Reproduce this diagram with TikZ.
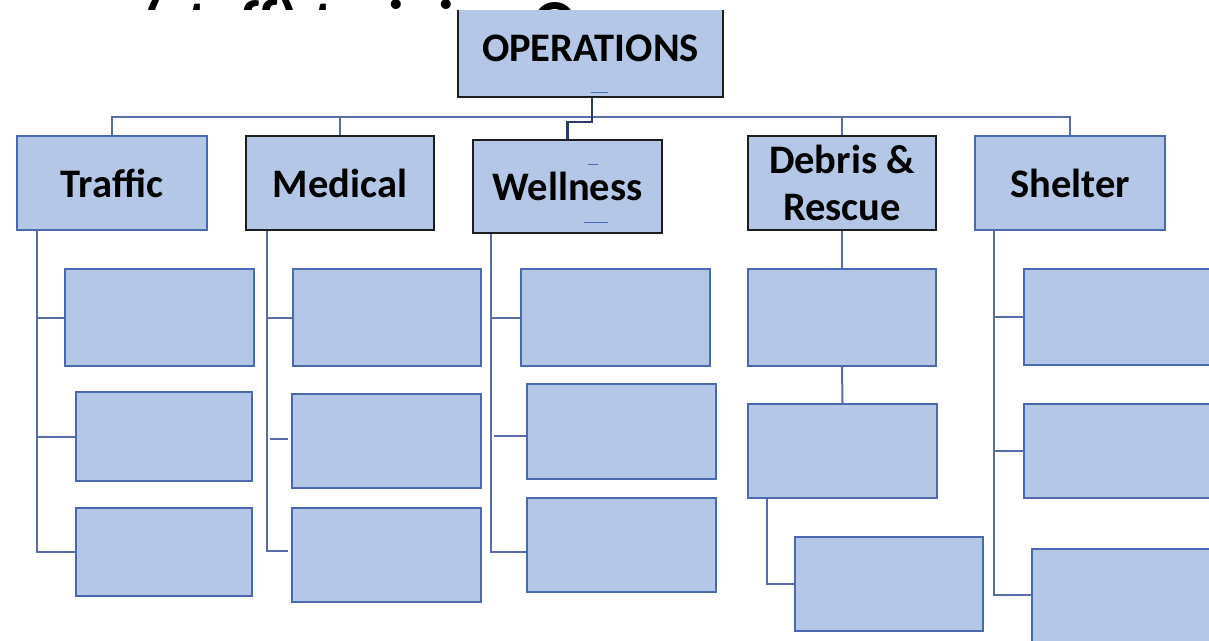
\documentclass[tikz,border=0pt]{standalone}
\usepackage{fontspec}
\setmainfont{Carlito}
\usetikzlibrary{calc}

\definecolor{boxfill}{HTML}{B4C7E7}
\definecolor{boxedge}{HTML}{4A69B0}
\definecolor{linkc}{HTML}{5A6DA6}
\definecolor{darkedge}{HTML}{1E1E1E}
\definecolor{darklinkc}{HTML}{2B3A66}

% \orgbox{style}{name}{left}{top}{right}{bottom}{text}
\newcommand\orgbox[7]{%
  \node[#1, minimum width={#5-#3}, minimum height={#6-#4}]
    (#2) at ({(#3+#5)/2},{(#4+#6)/2}) {#7};}

\begin{document}
\begin{tikzpicture}[x=1pt, y=-1pt,
  box/.style={draw=boxedge, fill=boxfill, line width=1.9pt, inner sep=0pt,
    align=center, font=\bfseries\fontsize{40.5}{47}\selectfont},
  dark/.style={box, draw=darkedge, line width=2.3pt},
  link/.style={draw=linkc, line width=2pt},
  darklink/.style={draw=darklinkc, line width=2.2pt},
  tickmark/.style={draw=boxedge, line width=1.3pt},
]
\useasboundingbox (0,0) rectangle (1209,640);
\clip (0,0) rectangle (1209,640);

% heading line, mostly hidden behind the chart
\node[anchor=base west, inner sep=0pt, font=\bfseries\fontsize{64}{70}\selectfont]
  (title) at (142,44) {(staff) training Org};

\begin{scope}
\clip (0,10) rectangle (1209,640);
\fill[white] (0,10) rectangle (1209,640);

% top of the chart
\orgbox{dark}{ops}{458}{-1}{723}{97}{OPERATIONS}

% sections
\orgbox{box}{traffic}{17}{136}{207}{230}{Traffic}
\orgbox{dark}{medical}{246}{136}{434}{230}{Medical}
\orgbox{dark}{wellness}{473}{140}{662}{233}{Wellness}
\orgbox{dark}{debris}{748}{136}{936}{230}{Debris \&\\Rescue}
\orgbox{box}{shelter}{975}{136}{1165}{230}{Shelter}

% empty position boxes
\orgbox{box}{t1}{65}{269}{254}{366}{}
\orgbox{box}{t2}{76}{392}{252}{481}{}
\orgbox{box}{t3}{76}{508}{252}{596}{}
\orgbox{box}{m1}{293}{269}{481}{366}{}
\orgbox{box}{m2}{292}{394}{481}{488}{}
\orgbox{box}{m3}{292}{508}{481}{602}{}
\orgbox{box}{w1}{521}{269}{710}{366}{}
\orgbox{box}{w2}{527}{384}{716}{479}{}
\orgbox{box}{w3}{527}{498}{716}{592}{}
\orgbox{box}{d1}{748}{269}{936}{366}{}
\orgbox{box}{d2}{748}{404}{937}{498}{}
\orgbox{box}{d3}{795}{537}{983}{631}{}
\orgbox{box}{s1}{1024}{269}{1240}{365}{}
\orgbox{box}{s2}{1024}{404}{1240}{498}{}
\orgbox{box}{s3}{1032}{549}{1240}{680}{}

% small marks inside boxes
\draw[tickmark] ($(ops.south)+(0,-6)$) -- ++(17,0);
\draw[tickmark] ($(wellness.center)+(20,-22)$) -- ++(10,0);
\draw[tickmark] ($(wellness.center)+(16,36)$) -- ++(24,0);

% bus from OPERATIONS to the sections
\coordinate (busy) at (0,117);
\draw[link] (traffic.north) -- (traffic.north |- busy) -- (shelter.north |- busy) -- (shelter.north);
\draw[link] (medical.north) -- (medical.north |- busy);
\draw[link] (debris.north) -- (debris.north |- busy);
\coordinate (opsdrop) at ($(ops.south)+(1.5,0)$);
\draw[darklink] (opsdrop) -- ++(0,24) -| (wellness.north);

% Traffic
\coordinate (tx) at ($(traffic.south west)+(21,0)$);
\draw[link] (tx) |- (t3.west);
\draw[link] (tx |- t1.west) -- (t1.west);
\draw[link] (tx |- t2.west) -- (t2.west);

% Medical
\coordinate (mx) at ($(medical.south west)+(22,0)$);
\draw[link] (mx) |- ($(m3.west)+(-3,-4)$);
\draw[link] (mx |- m1.west) -- (m1.west);
\draw[link] ($(mx |- m2.west)+(3,-2)$) -- ($(m2.west)+(-3,-2)$);

% Wellness
\coordinate (wx) at ($(wellness.south west)+(19,0)$);
\draw[link] (wx) |- ($(w3.west)+(0,7)$);
\draw[link] (wx |- w1.west) -- (w1.west);
\draw[link] ($(wx |- w2.west)+(3,4)$) -- ($(w2.west)+(0,4)$);

% Debris & Rescue
\draw[link] (debris.south) -- (d1.north);
\draw[link] (d1.south) -- (d2.north);
\coordinate (dx) at ($(d2.south west)+(20,0)$);
\draw[link] (dx) |- (d3.west);

% Shelter
\coordinate (sx) at ($(shelter.south west)+(20,0)$);
\draw[link] (sx) |- ($(s3.west)+(0,-19.5)$);
\draw[link] (sx |- s1.west) -- (s1.west);
\draw[link] (sx |- s2.west) -- (s2.west);
\end{scope}
\end{tikzpicture}
\end{document}
